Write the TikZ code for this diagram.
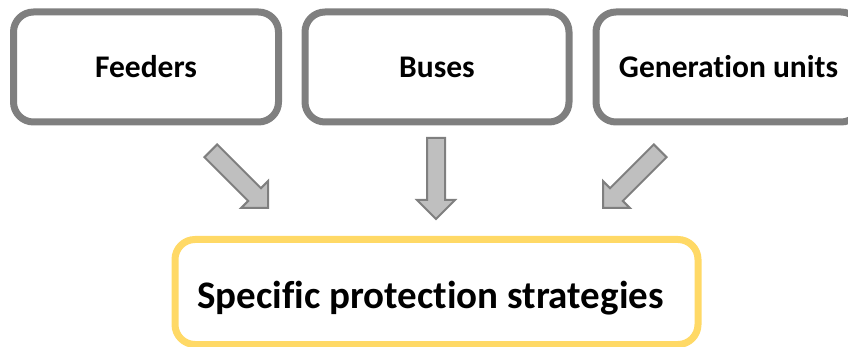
\documentclass[tikz,border=0pt]{standalone}
\usepackage{fontspec}
\setmainfont[Ligatures=NoCommon]{Carlito}
\usetikzlibrary{calc}
\definecolor{boxgray}{HTML}{7F7F7F}
\definecolor{arrfill}{HTML}{BFBFBF}
\definecolor{gold}{HTML}{FFD966}
\tikzset{
  topbox/.style={draw=boxgray, line width=7pt, rounded corners=20pt, fill=white,
    minimum height=110pt, inner sep=0pt, font=\bfseries\fontsize{31.5}{36}\selectfont},
  goalbox/.style={draw=gold, line width=7pt, rounded corners=20pt, fill=white,
    minimum width=523pt, minimum height=105pt, inner sep=0pt},
  goallabel/.style={font=\bfseries\fontsize{39}{44}\selectfont, inner sep=0pt},
  fatarrow/.style={draw=boxgray, fill=arrfill, line width=2pt, line join=miter}
}
\newcommand\blockarrow[2]{%
  \coordinate (#1b) at ($(#2)!19pt!(#1)$);
  \draw[fatarrow] ($(#1)!9pt!90:(#2)$) -- ($(#1b)!9pt!90:(#2)$) -- ($(#1b)!19pt!90:(#2)$)
    -- (#2) -- ($(#1b)!19pt!-90:(#2)$) -- ($(#1b)!9pt!-90:(#2)$) -- ($(#1)!9pt!-90:(#2)$) -- cycle;
}
\begin{document}
\begin{tikzpicture}[x=1pt,y=-1pt]
\useasboundingbox (0,0) rectangle (848,347);
\clip (0,0) rectangle (848,347);
\node[topbox, minimum width=265pt] (feeders) at (146,67) {Feeders};
\node[topbox, minimum width=264pt] (buses) at (437,67) {Buses};
\node[topbox, minimum width=265pt] (gen) at (728.5,67) {Generation units};
\node[goalbox] (goal) at (436.5,292) {};
\node[goallabel, anchor=base] (goaltext) at (430.5,308) {Specific protection strategies};
\coordinate (t1) at (210.8,150.8); \coordinate (p1) at (268,208);
\coordinate (t2) at (436,138);     \coordinate (p2) at (436,219);
\coordinate (t3) at (660.2,150.8); \coordinate (p3) at (603,208);
\blockarrow{t1}{p1}
\blockarrow{t2}{p2}
\blockarrow{t3}{p3}
\end{tikzpicture}
\end{document}
